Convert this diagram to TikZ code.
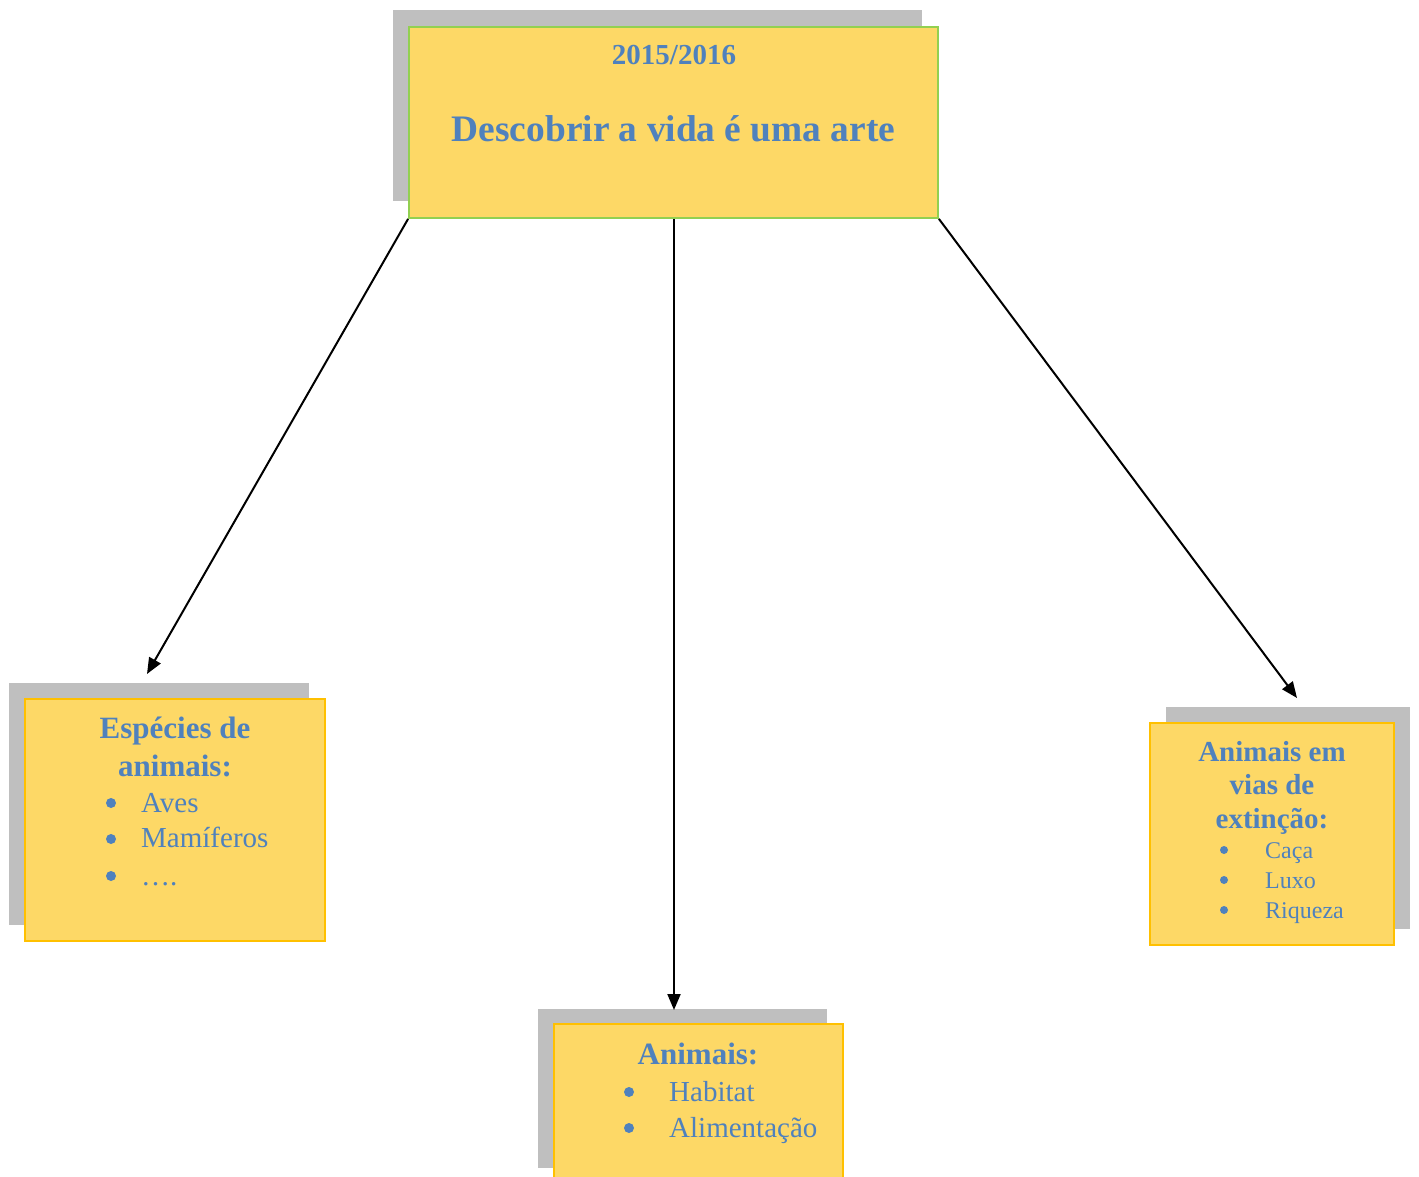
\documentclass[tikz,border=0pt]{standalone}
\usepackage{fontspec}
\setmainfont{Liberation Serif}
\usetikzlibrary{arrows.meta}
\definecolor{boxyellow}{HTML}{FDD866}
\definecolor{shadowgray}{HTML}{BFBFBF}
\definecolor{txtblue}{HTML}{4F81BD}
\definecolor{greenborder}{HTML}{92D050}
\definecolor{orangeborder}{HTML}{FFC000}
\tikzset{
  boxnode/.style={draw=orangeborder, line width=1.8pt, fill=boxyellow, inner sep=0pt, rectangle},
  shadownode/.style={fill=shadowgray, inner sep=0pt, rectangle},
  hd/.style={text=txtblue, font=\fontsize{31}{36}\selectfont\bfseries, anchor=base, inner sep=0pt},
  itm/.style={text=txtblue, font=\fontsize{29}{34}\selectfont, anchor=base west, inner sep=0pt},
  bul/.style={circle, fill=txtblue, inner sep=0pt, minimum size=10pt},
  sbul/.style={circle, fill=txtblue, inner sep=0pt, minimum size=8pt},
  conn/.style={line width=2pt, -{Triangle[length=16pt,width=13pt]}},
}
\begin{document}
\begin{tikzpicture}[x=1pt,y=-1pt]
\useasboundingbox (0,0) rectangle (1419,1177);
% shadows
\node[shadownode, minimum width=529pt, minimum height=191pt] (tops) at (657.5,105.5) {};
\node[shadownode, minimum width=300pt, minimum height=242pt] (lefts) at (159,804) {};
\node[shadownode, minimum width=244pt, minimum height=222pt] (rights) at (1288,818) {};
\node[shadownode, minimum width=289pt, minimum height=159pt] (bottoms) at (682.5,1088.5) {};
% boxes
\node[boxnode, draw=greenborder, minimum width=529pt, minimum height=191pt] (top) at (673.5,122.5) {};
\node[boxnode, minimum width=300pt, minimum height=242pt] (left) at (175,820) {};
\node[boxnode, minimum width=244pt, minimum height=222pt] (right) at (1272,834) {};
\node[boxnode, minimum width=289pt, minimum height=159pt] (bottom) at (698.5,1103.5) {};
% top texts
\node[hd, font=\fontsize{29}{34}\selectfont\bfseries] (year) at (674,65) {2015/2016};
\node[hd, font=\fontsize{37.4}{44}\selectfont\bfseries] (title) at (673.5,142) {Descobrir a vida é uma arte};
% left texts
\node[hd] (l1) at (175,738) {Espécies de};
\node[hd] (l2) at (175,776) {animais:};
\node[bul] (lb1) at (111,803) {};
\node[itm] (li1) at (141,812) {Aves};
\node[bul] (lb2) at (111,839) {};
\node[itm] (li2) at (141,847) {Mamíferos};
\node[bul] (lb3) at (111,876) {};
\node[itm] (li3) at (141,885) {….};
% right texts
\node[hd, font=\fontsize{29}{34}\selectfont\bfseries] (r1) at (1272,761) {Animais em};
\node[hd, font=\fontsize{29}{34}\selectfont\bfseries] (r2) at (1272,794) {vias de};
\node[hd, font=\fontsize{29}{34}\selectfont\bfseries] (r3) at (1272,828) {extinção:};
\node[sbul] (rb1) at (1224,850) {};
\node[itm, font=\fontsize{24}{28}\selectfont] (ri1) at (1265,858) {Caça};
\node[sbul] (rb2) at (1224,880) {};
\node[itm, font=\fontsize{24}{28}\selectfont] (ri2) at (1265,888) {Luxo};
\node[sbul] (rb3) at (1224,910) {};
\node[itm, font=\fontsize{24}{28}\selectfont] (ri3) at (1265,918) {Riqueza};
% bottom texts
\node[hd] (b1) at (698,1064) {Animais:};
\node[bul] (bb1) at (629,1092) {};
\node[itm] (bi1) at (669,1101) {Habitat};
\node[bul] (bb2) at (629,1128) {};
\node[itm] (bi2) at (669,1137) {Alimentação};
% connectors
\coordinate (tipL) at (147,674);
\coordinate (tipM) at (674,1010);
\coordinate (tipR) at (1297,698);
\draw[conn] (top.south west) -- (tipL);
\draw[conn] (top.south -| tipM) -- (tipM);
\draw[conn] (top.south east) -- (tipR);
\end{tikzpicture}
\end{document}
